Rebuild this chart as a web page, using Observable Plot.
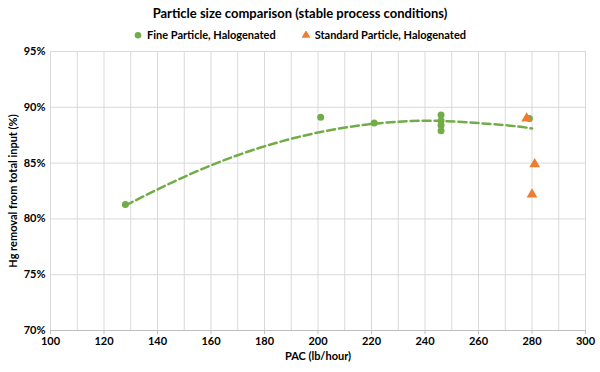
<!DOCTYPE html>
<html>
<head>
<meta charset="utf-8">
<script src="https://cdn.jsdelivr.net/npm/d3@7"></script>
<script src="https://cdn.jsdelivr.net/npm/@observablehq/plot@0.6"></script>
<style>
  html, body { margin: 0; padding: 0; background: #fff; }
  body { width: 600px; height: 372px; overflow: hidden; font-family: Lato, "Noto Sans", sans-serif; color: #000; }
  #title { height: 25px; line-height: 27px; text-align: center; font-weight: bold; font-size: 13px; }
  #legend { height: 20px; line-height: 20px; display: flex; justify-content: center; align-items: center; gap: 26px; font-weight: bold; font-size: 11px; }
  #legend span.item { display: inline-flex; align-items: center; gap: 5px; }
  #chart svg { display: block; }
</style>
</head>
<body>
<div id="title"></div>
<div id="legend"></div>
<div id="chart"></div>
<script>
// ---- data ----
const titleText = "Particle size comparison (stable process conditions)";
const seriesNames = ["Fine Particle, Halogenated", "Standard Particle, Halogenated"];
const seriesColors = ["#70AD47", "#ED7D31"];
const xLabel = "PAC (lb/hour)";
const yLabel = "Hg removal from total input (%)";

const xTicks = [100, 120, 140, 160, 180, 200, 220, 240, 260, 280, 300];
const xGrid = [100, 110, 120, 130, 140, 150, 160, 170, 180, 190, 200, 210, 220, 230, 240, 250, 260, 270, 280, 290, 300];
const yTicks = [70, 75, 80, 85, 90, 95];

// Fine Particle, Halogenated (circles)
const fineX = [128, 201, 221, 246, 246, 246, 246, 279];
const fineY = [81.3, 89.1, 88.6, 89.3, 88.8, 88.4, 87.9, 89.0];

// Standard Particle, Halogenated (triangles)
const stdX = [278, 281, 280];
const stdY = [89.0, 84.9, 82.2];

// dashed trend line of the fine-particle series
const trendX = [128, 144, 160, 176, 192, 208, 224, 240, 256, 272, 280];
const trendY = [81.2, 83.1, 84.8, 86.2, 87.3, 88.1, 88.6, 88.8, 88.65, 88.35, 88.1];

// ---- build tables ----
const fine = fineX.map((x, i) => ({x, y: fineY[i]}));
const std = stdX.map((x, i) => ({x, y: stdY[i]}));
const trend = trendX.map((x, i) => ({x, y: trendY[i]}));

document.getElementById("title").textContent = titleText;

// legend
const legend = document.getElementById("legend");
const symbols = ["circle", "triangle"];
seriesNames.forEach((name, i) => {
  const item = document.createElement("span");
  item.className = "item";
  const sw = d3.create("svg").attr("width", 8).attr("height", 8);
  sw.append("path")
    .attr("transform", "translate(4,4.3)")
    .attr("d", d3.symbol(symbols[i] === "circle" ? d3.symbolCircle : d3.symbolTriangle, 34)())
    .attr("fill", seriesColors[i]);
  item.appendChild(sw.node());
  const t = document.createElement("span");
  t.textContent = name;
  item.appendChild(t);
  legend.appendChild(item);
});

const chart = Plot.plot({
  width: 600,
  height: 327,
  marginTop: 6,
  marginBottom: 42,
  marginLeft: 50,
  marginRight: 15,
  style: {fontFamily: "Lato, 'Noto Sans', sans-serif", fontSize: "11px", fontWeight: "bold", color: "#000", background: "#fff"},
  x: {domain: [100, 300]},
  y: {domain: [70, 95]},
  marks: [
    Plot.ruleX(xGrid, {stroke: "#d9d9d9", strokeWidth: 1}),
    Plot.ruleY(yTicks.filter(d => d > 70), {stroke: "#d9d9d9", strokeWidth: 1}),
    Plot.ruleY([70], {stroke: "#bfbfbf", strokeWidth: 1}),
    Plot.axisX({ticks: xTicks, tickSize: 4, tickPadding: 3, label: null, stroke: "#bfbfbf", tickFormat: d => String(d)}),
    Plot.axisY({ticks: yTicks, tickSize: 0, tickPadding: 5, label: null, tickFormat: d => d + "%"}),
    Plot.line(trend, {x: "x", y: "y", stroke: seriesColors[0], strokeWidth: 2.5, strokeDasharray: "8,4", curve: "natural"}),
    Plot.dot(fine, {x: "x", y: "y", r: 3.5, fill: seriesColors[0], symbol: "circle"}),
    Plot.dot(std, {x: "x", y: "y", r: 4, fill: seriesColors[1], symbol: "triangle"}),
    Plot.text([yLabel], {frameAnchor: "left", dx: -37, rotate: -90, textAnchor: "middle", lineAnchor: "middle", fontSize: 11, fontWeight: "bold", fill: "#000"}),
    Plot.text([xLabel], {frameAnchor: "bottom", dy: 26, textAnchor: "middle", lineAnchor: "middle", fontSize: 11, fontWeight: "bold", fill: "#000"})
  ]
});
document.getElementById("chart").appendChild(chart);
</script>
</body>
</html>
